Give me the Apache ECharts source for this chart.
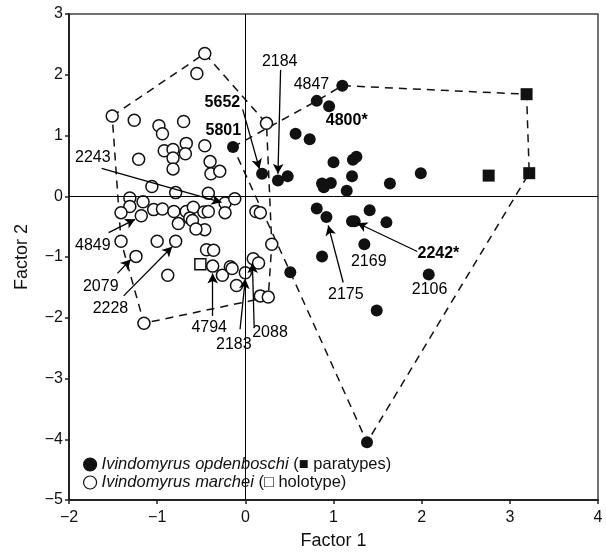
<!DOCTYPE html>
<html>
<head>
<meta charset="utf-8">
<script src="https://cdn.jsdelivr.net/npm/echarts@6/dist/echarts.min.js"></script>
<style>
  html, body { margin: 0; padding: 0; background: #fff; }
  #chart { width: 606px; height: 555px; }
</style>
</head>
<body>
<div id="chart"></div>
<script>
// Ivindomyrus opdenboschi (filled circles)
var opdenboschi = [
  [1.10, 1.82], [0.81, 1.57], [0.95, 1.48], [-0.14, 0.81], [0.57, 1.03], [0.73, 0.94],
  [0.19, 0.37], [0.37, 0.26], [0.48, 0.33], [1.00, 0.56], [1.22, 0.60], [1.26, 0.65],
  [1.21, 0.33], [0.87, 0.21], [0.97, 0.22], [0.89, 0.15], [1.15, 0.09], [1.64, 0.21],
  [1.99, 0.38], [0.81, -0.20], [0.92, -0.34], [1.21, -0.41], [1.24, -0.41], [1.41, -0.23],
  [1.60, -0.43], [1.35, -0.79], [0.87, -0.99], [0.51, -1.25], [2.08, -1.29], [1.49, -1.88],
  [1.38, -4.05]
];
var paratypes = [[3.19, 1.68], [2.76, 0.34], [3.22, 0.38]];

// Ivindomyrus marchei (open circles)
var marchei = [
  [-0.46, 2.35], [-0.55, 2.02], [-1.51, 1.32], [-1.26, 1.25], [-0.98, 1.16], [-0.94, 1.03],
  [-0.70, 1.23], [-0.67, 0.87], [-0.92, 0.75], [-0.82, 0.77], [-0.82, 0.63], [-0.68, 0.70],
  [-0.46, 0.83], [-1.21, 0.61], [-0.82, 0.45], [-0.40, 0.57], [-0.39, 0.37], [-0.29, 0.41],
  [0.24, 1.20], [-0.42, 0.05], [-0.23, -0.11], [-0.12, -0.04], [-0.23, -0.27], [-0.46, -0.55],
  [0.12, -0.25], [0.17, -0.27], [0.30, -0.79], [-0.44, -0.88], [-0.36, -0.89], [-1.06, 0.16],
  [-0.79, 0.06], [-1.31, -0.03], [-1.16, -0.09], [-1.31, -0.17], [-1.41, -0.27], [-1.04, -0.22],
  [-0.94, -0.21], [-0.81, -0.25], [-0.67, -0.25], [-0.59, -0.18], [-0.47, -0.26], [-0.42, -0.25],
  [-1.18, -0.32], [-0.76, -0.45], [-0.63, -0.36], [-0.60, -0.40], [-0.56, -0.54], [-1.41, -0.74],
  [-1.00, -0.74], [-0.79, -0.74], [-1.24, -0.99], [-0.88, -1.30], [-0.37, -1.15], [-0.26, -1.30],
  [-0.17, -1.16], [-0.15, -1.19], [-0.10, -1.47], [0.00, -1.26], [0.09, -1.03], [0.15, -1.10],
  [0.17, -1.64], [0.26, -1.66], [-1.15, -2.09]
];
var holotype = [[-0.51, -1.12]];

// dashed envelopes
var hullMarchei = [[-1.51, 1.32], [-0.46, 2.35], [0.24, 1.20], [0.30, -0.79], [0.26, -1.66],
  [-1.15, -2.09], [-1.41, -0.74], [-1.51, 1.32]];
var hullOpden = [[-0.14, 0.81], [0.81, 1.57], [1.10, 1.82], [3.19, 1.68], [3.22, 0.38],
  [1.38, -4.05], [0.51, -1.25], [-0.14, 0.81]];

// specimen labels: text, x, y, bold
var specLabels = [
  ['2184', 0.39, 2.21, false], ['4847', 0.75, 1.83, false], ['4800*', 1.15, 1.24, true],
  ['5652', -0.26, 1.54, true], ['5801', -0.25, 1.08, true], ['2243', -1.73, 0.63, false],
  ['4849', -1.73, -0.81, false], ['2079', -1.64, -1.48, false], ['2228', -1.53, -1.85, false],
  ['4794', -0.41, -2.16, false], ['2183', -0.13, -2.44, false], ['2088', 0.28, -2.24, false],
  ['2169', 1.40, -1.07, false], ['2242*', 2.19, -0.94, true], ['2175', 1.14, -1.62, false],
  ['2106', 2.09, -1.53, false]
];
// arrows: from -> to
var arrows = [
  [[0.40, 2.08], [0.37, 0.37]], [[-0.03, 1.43], [0.16, 0.45]], [[-1.63, 0.46], [-0.27, -0.10]],
  [[-1.55, -0.60], [-1.25, -0.38]], [[-1.45, -1.27], [-1.30, -1.04]], [[-1.38, -1.64], [-0.83, -0.83]],
  [[-0.37, -1.97], [-0.37, -1.27]], [[-0.06, -2.19], [0.00, -1.36]], [[0.10, -2.14], [0.08, -1.10]],
  [[1.95, -0.91], [1.27, -0.44]], [[1.11, -1.42], [0.94, -0.48]]
];

var FONT = "'Liberation Sans', Arial, sans-serif";
function tickFmt(v) { return v < 0 ? '\u2212' + Math.abs(v) : String(v); }

var chart = echarts.init(document.getElementById('chart'));

var option = {
  animation: false,
  backgroundColor: '#fff',
  textStyle: { fontFamily: FONT },
  grid: { left: 69, right: 8, top: 14, bottom: 54, show: true, borderColor: '#444', borderWidth: 1.5 },
  xAxis: {
    type: 'value', min: -2, max: 4, interval: 1,
    name: 'Factor 1', nameLocation: 'middle', nameGap: 32,
    nameTextStyle: { fontSize: 18, color: '#111', fontFamily: FONT },
    axisLine: { onZero: false, lineStyle: { color: '#222', width: 2 } },
    axisTick: { inside: false, length: 4, lineStyle: { color: '#222', width: 1.5 } },
    axisLabel: { fontSize: 16, color: '#111', margin: 10, formatter: tickFmt, fontFamily: FONT },
    splitLine: { show: false }
  },
  yAxis: {
    type: 'value', min: -5, max: 3, interval: 1,
    name: 'Factor 2', nameLocation: 'middle', nameGap: 38, nameRotate: 90,
    nameTextStyle: { fontSize: 18, color: '#111', fontFamily: FONT },
    axisLine: { onZero: false, lineStyle: { color: '#222', width: 2 } },
    axisTick: { inside: false, length: 4, lineStyle: { color: '#222', width: 1.5 } },
    axisLabel: { fontSize: 16, color: '#111', margin: 6, formatter: tickFmt, fontFamily: FONT },
    splitLine: { show: false }
  },
  legend: {
    orient: 'vertical', left: 78, top: 451, itemGap: 1,
    itemWidth: 13, itemHeight: 13,
    data: [
      { name: 'Ivindomyrus opdenboschi', icon: 'circle', itemStyle: { borderWidth: 1.2 } },
      { name: 'Ivindomyrus marchei', icon: 'circle', itemStyle: { borderWidth: 1.2 } }
    ],
    formatter: function (name) {
      if (name === 'Ivindomyrus opdenboschi') return '{i|Ivindomyrus opdenboschi} ({n|\u25A0 paratypes})';
      return '{i|Ivindomyrus marchei} ({n|\u25A1 holotype})';
    },
    textStyle: {
      fontSize: 16.5, color: '#111', fontFamily: FONT,
      rich: {
        i: { fontStyle: 'italic', fontSize: 16.5, color: '#111', fontFamily: FONT },
        n: { fontSize: 16.5, color: '#111', fontFamily: FONT }
      }
    }
  },
  series: [
    {
      name: 'hull1', type: 'line', data: hullMarchei, symbol: 'none', silent: true, z: 1,
      lineStyle: { color: '#111', width: 1.5, type: [8, 6] },
      markLine: {
        silent: true, symbol: 'none', animation: false,
        label: { show: false },
        lineStyle: { color: '#000', width: 1, type: 'solid' },
        data: [{ xAxis: 0 }, { yAxis: 0 }]
      }
    },
    {
      name: 'hull2', type: 'line', data: hullOpden, symbol: 'none', silent: true, z: 1,
      lineStyle: { color: '#111', width: 1.5, type: [8, 6] }
    },
    {
      name: 'Ivindomyrus marchei', type: 'scatter', data: marchei, symbol: 'circle', symbolSize: 12, z: 3,
      itemStyle: { color: '#fff', borderColor: '#111', borderWidth: 1.5, opacity: 1 }
    },
    {
      name: 'holotype', type: 'scatter', data: holotype, symbol: 'rect', symbolSize: 11, z: 3,
      itemStyle: { color: '#fff', borderColor: '#111', borderWidth: 1.5, opacity: 1 }
    },
    {
      name: 'Ivindomyrus opdenboschi', type: 'scatter', data: opdenboschi, symbol: 'circle', symbolSize: 12, z: 3,
      itemStyle: { color: '#111', borderColor: '#111', borderWidth: 0, opacity: 1 }
    },
    {
      name: 'paratypes', type: 'scatter', data: paratypes, symbol: 'rect', symbolSize: 12, z: 3,
      itemStyle: { color: '#111', opacity: 1 }
    },
    {
      name: 'arrows', type: 'scatter', data: [], z: 4,
      markLine: {
        silent: true, animation: false,
        symbol: ['none', 'arrow'], symbolSize: [8, 10],
        label: { show: false },
        lineStyle: { color: '#000', width: 1.3, type: 'solid', opacity: 1 },
        itemStyle: { color: '#000', opacity: 1 },
        data: arrows.map(function (a) { return [{ coord: a[0] }, { coord: a[1] }]; })
      }
    },
    {
      name: 'labels', type: 'scatter', symbolSize: 0, silent: true, z: 5,
      itemStyle: { opacity: 1, color: '#000' },
      data: specLabels.map(function (s) {
        return {
          value: [s[1], s[2]], name: s[0],
          label: { fontWeight: s[3] ? 'bold' : 'normal' }
        };
      }),
      label: {
        show: true, position: 'inside', formatter: '{b}',
        fontSize: 16, color: '#000', opacity: 1, fontFamily: FONT
      }
    }
  ]
};

chart.setOption(option);
</script>
</body>
</html>
